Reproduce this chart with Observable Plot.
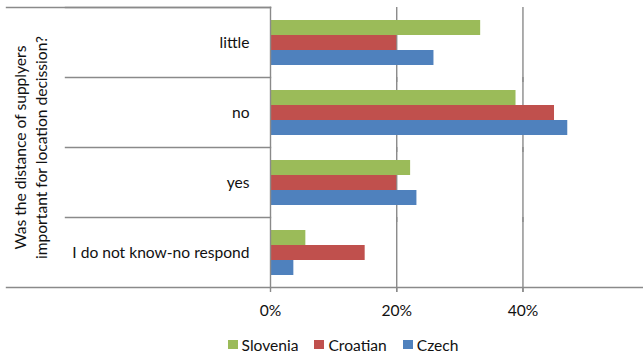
<!DOCTYPE html>
<html>
<head>
<meta charset="utf-8">
<script src="https://cdn.jsdelivr.net/npm/d3@7"></script>
<script src="https://cdn.jsdelivr.net/npm/@observablehq/plot@0.6"></script>
<style>
  body { margin: 0; background: #fff; }
  #chart { width: 643px; height: 358px; overflow: hidden; font-family: Lato, "Open Sans", sans-serif; color: #111; }
  #chart svg { display: block; }
  .legend { display: flex; justify-content: center; align-items: center; padding-left: 43px; padding-top: 6px; height: 27px; font-size: 15.6px; }
  .legend .item { display: flex; align-items: center; margin: 0 8px; }
  .legend .swatch { width: 10px; height: 9px; margin-right: 4px; }
</style>
</head>
<body>
<div id="chart"></div>
<script>
// Answer categories (top to bottom) and countries
const categories = ["little", "no", "yes", "I do not know-no respond"];
const seriesNames = ["Slovenia", "Croatian", "Czech"];
const seriesColors = ["#9BBB59", "#C0504D", "#4F81BD"];

// Share of respondents per answer, in category order
const slovenia = [0.333, 0.389, 0.222, 0.056];
const croatian = [0.200, 0.450, 0.200, 0.150];
const czech = [0.259, 0.471, 0.232, 0.037];

const xTicks = [0, 0.2, 0.4];
const gridTicks = [0.2, 0.4];
const axisTitle = ["Was the distance of supplyers", "important for location decission?"];

const seriesValues = [slovenia, croatian, czech];
const rows = categories.flatMap((cat, i) =>
  seriesNames.map((s, j) => ({category: cat, series: s, value: seriesValues[j][i]}))
);

const W = 643, H = 325;
const mLeft = 270, mTop = 7, mBottom = 38, mRight = 0;
const lineColor = "#8a8a8a";
const plotW = W - mLeft - mRight;
const fs = 15.6;

const chart = Plot.plot({
  width: W,
  height: H,
  marginLeft: mLeft,
  marginRight: mRight,
  marginTop: mTop,
  marginBottom: mBottom,
  style: {fontFamily: "Lato, 'Open Sans', sans-serif", fontSize: fs + "px", color: "#111", background: "#fff"},
  x: {domain: [0, 0.591], axis: null},
  y: {domain: seriesNames, axis: null, paddingInner: 0, paddingOuter: 0.734},
  fy: {domain: categories, padding: 0, axis: "left", tickSize: 0, tickPadding: 21, label: null},
  color: {domain: seriesNames, range: seriesColors},
  marks: [
    // gridlines, extended slightly below the axis as ticks
    Plot.ruleX(gridTicks, {stroke: lineColor, strokeWidth: 1.4, strokeOpacity: 1, insetBottom: -5}),
    Plot.barX(rows, {fy: "category", y: "series", x: "value", fill: "series"}),
    // category separators in the left margin
    Plot.frame({anchor: "top", stroke: lineColor, strokeWidth: 1.4, strokeOpacity: 1, insetLeft: -(mLeft - 65), insetRight: plotW}),
    // outer top and bottom borders of the category axis
    Plot.frame({anchor: "top", facet: "super", stroke: lineColor, strokeWidth: 1.4, strokeOpacity: 1, insetLeft: -(mLeft - 6), insetRight: plotW}),
    Plot.frame({anchor: "bottom", facet: "super", stroke: lineColor, strokeWidth: 1.4, strokeOpacity: 1, insetLeft: -(mLeft - 6)}),
    Plot.frame({anchor: "left", facet: "super", stroke: lineColor, strokeWidth: 1.4, strokeOpacity: 1}),
    Plot.axisX(xTicks, {tickSize: 5, tickPadding: 12, tickFormat: d3.format(".0%"), stroke: lineColor, strokeWidth: 1.4, fill: "#111", fontSize: fs, label: null}),
    Plot.text([axisTitle.join("\n")], {
      facet: "super", frameAnchor: "left", rotate: -90, dx: 29.5 - mLeft,
      textAnchor: "middle", lineAnchor: "middle", lineHeight: 1.3, fontSize: fs, fill: "#111"
    })
  ]
});

const root = document.getElementById("chart");
root.appendChild(chart);

// legend below the plot
const legend = document.createElement("div");
legend.className = "legend";
seriesNames.forEach((s, i) => {
  const item = document.createElement("div");
  item.className = "item";
  const sw = document.createElement("span");
  sw.className = "swatch";
  sw.style.background = seriesColors[i];
  const label = document.createElement("span");
  label.textContent = s;
  item.appendChild(sw);
  item.appendChild(label);
  legend.appendChild(item);
});
root.appendChild(legend);
</script>
</body>
</html>
